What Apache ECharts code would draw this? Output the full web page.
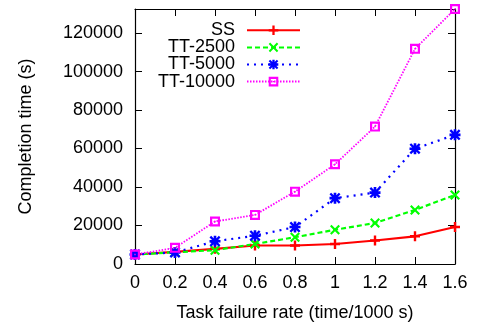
<!DOCTYPE html>
<html>
<head>
<meta charset="utf-8">
<script src="https://cdn.jsdelivr.net/npm/echarts@6/dist/echarts.min.js"></script>
<style>
  html, body { margin: 0; padding: 0; background: #fff; }
  #chart { width: 477px; height: 327px; }
</style>
</head>
<body>
<div id="chart"></div>
<script>
// failure rate on x, completion time (s) on y
const failureRates = [0, 0.2, 0.4, 0.6, 0.8, 1.0, 1.2, 1.4, 1.6]
const ssTimes = [4950, 6300, 7900, 9600, 9600, 10400, 12200, 14400, 19200]
const tt2500Times = [4950, 6100, 7200, 10400, 13900, 17800, 21300, 28100, 35900]
const tt5000Times = [4950, 6000, 11800, 14700, 19200, 34200, 37100, 59900, 67100]
const tt10000Times = [4950, 8400, 22100, 25500, 37600, 51800, 71400, 111800, 132500]
const yTicks = [0, 20000, 40000, 60000, 80000, 100000, 120000]

const font = 'Liberation Sans, Arial, sans-serif'
const plusPath = 'path://M3.8,0H6.2V10H3.8Z M0,3.8H10V6.2H0Z'
const crossPath = 'path://M1.5,0L5,3.5L8.5,0L10,1.5L6.5,5L10,8.5L8.5,10L5,6.5L1.5,10L0,8.5L3.5,5L0,1.5Z'
const starPath = 'path://M3.8,0H6.2V10H3.8Z M0,3.8H10V6.2H0Z M1.5,0L5,3.5L8.5,0L10,1.5L6.5,5L10,8.5L8.5,10L5,6.5L1.5,10L0,8.5L3.5,5L0,1.5Z'
const boxPath = 'path://M0,0H10V10H0Z M2.2,2.2V7.8H7.8V2.2Z M4.3,4.3H5.7V5.7H4.3Z'

function pairs(ys) {
    return failureRates.map((x, i) => [x, ys[i]])
}

function makeSeries(name, ys, color, type, width, symbol, size) {
    return {
        name: name,
        type: 'line',
        data: pairs(ys),
        symbol: symbol,
        symbolSize: size,
        showAllSymbol: true,
        lineStyle: { color: color, width: width, type: type },
        itemStyle: { color: color },
        emphasis: { disabled: true }
    }
}

const chart = echarts.init(document.getElementById('chart'))
const tickStyle = { show: true, inside: true, length: 7, lineStyle: { color: '#000', width: 1 } }
const lineAxis = { show: true, onZero: false, lineStyle: { color: '#000', width: 1.2 } }

chart.setOption({
    animation: false,
    backgroundColor: '#fff',
    grid: { left: 135, right: 22, top: 9, bottom: 61 },
    legend: {
        orient: 'vertical',
        left: 130,
        top: 16,
        align: 'right',
        itemWidth: 53,
        itemHeight: 12,
        itemGap: -1.5,
        selectedMode: false,
        textStyle: {
            fontFamily: font, fontSize: 18, color: '#000',
            width: 100, align: 'right', lineHeight: 18.6, padding: [0, 7, 0, 0]
        },
        data: ['SS', 'TT-2500', 'TT-5000', 'TT-10000']
    },
    xAxis: [{
        type: 'value',
        min: 0,
        max: 1.6,
        interval: 0.2,
        name: 'Task failure rate (time/1000 s)',
        nameLocation: 'middle',
        nameGap: 40,
        nameTextStyle: { fontFamily: font, fontSize: 18, color: '#000' },
        axisLine: lineAxis,
        axisTick: tickStyle,
        splitLine: { show: false },
        axisLabel: {
            fontFamily: font, fontSize: 18, color: '#000', margin: 10,
            formatter: v => String(+v.toFixed(1))
        }
    }, {
        type: 'value',
        position: 'top',
        min: 0,
        max: 1.6,
        interval: 0.2,
        axisLine: lineAxis,
        axisTick: tickStyle,
        splitLine: { show: false },
        axisLabel: { show: false }
    }],
    yAxis: [{
        type: 'value',
        min: 0,
        max: 132500,
        interval: 20000,
        name: 'Completion time (s)',
        nameLocation: 'middle',
        nameGap: 100,
        nameTextStyle: { fontFamily: font, fontSize: 18, color: '#000' },
        axisLine: lineAxis,
        axisTick: tickStyle,
        splitLine: { show: false },
        axisLabel: {
            fontFamily: font, fontSize: 18, color: '#000', margin: 12,
            showMaxLabel: false,
            formatter: v => (yTicks.indexOf(v) >= 0 ? String(v) : '')
        }
    }, {
        type: 'value',
        position: 'right',
        min: 0,
        max: 132500,
        interval: 20000,
        axisLine: lineAxis,
        axisTick: tickStyle,
        splitLine: { show: false },
        axisLabel: { show: false }
    }],
    series: [
        makeSeries('SS', ssTimes, '#ff0000', 'solid', 2.2, plusPath, 10),
        makeSeries('TT-2500', tt2500Times, '#00ff00', [5, 3], 2.2, crossPath, 10),
        makeSeries('TT-5000', tt5000Times, '#0000ff', [2, 5], 2.2, starPath, 11),
        makeSeries('TT-10000', tt10000Times, '#ff00ff', [1.5, 1.5], 1.8, boxPath, 10)
    ]
})
</script>
</body>
</html>
